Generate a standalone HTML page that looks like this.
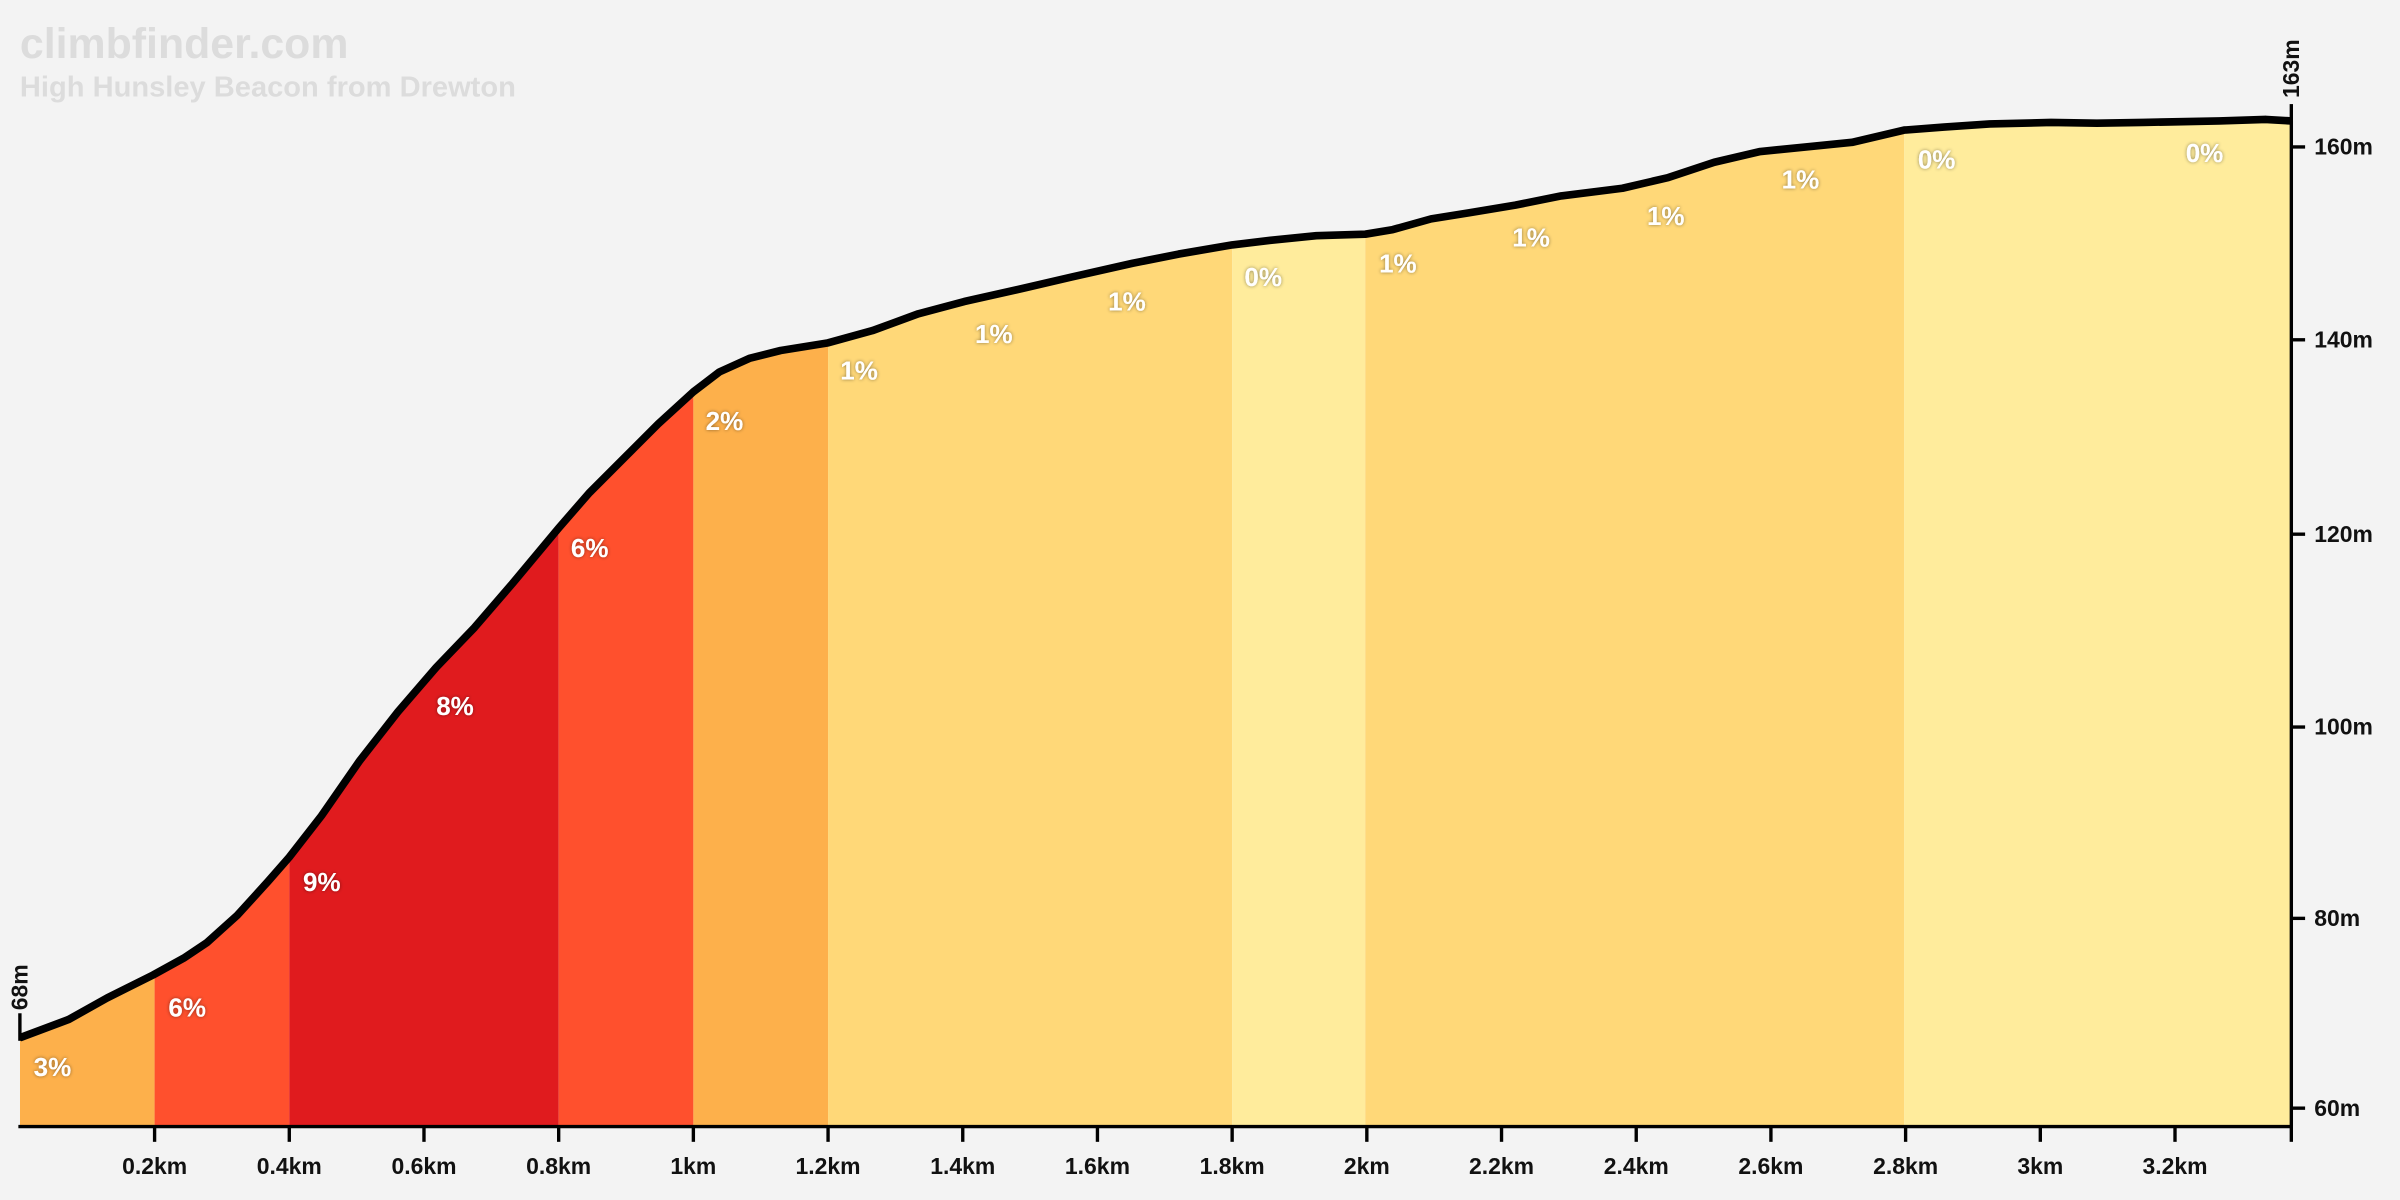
<!DOCTYPE html>
<html><head><meta charset="utf-8"><style>
html,body{margin:0;padding:0;background:#f3f3f3;}
svg{display:block}
.t{font-family:"Liberation Sans",sans-serif;font-weight:bold;}
.p{fill:#fff;font-size:17px;font-family:"Liberation Sans",sans-serif;font-weight:bold;filter:url(#sh)}
.ax{font-size:15px;fill:#111;font-family:"Liberation Sans",sans-serif;font-weight:bold}
</style></head><body>
<svg width="2400" height="1200" viewBox="0 0 1568 784" xmlns="http://www.w3.org/2000/svg">
<defs>
<filter id="sh" x="-20%" y="-20%" width="140%" height="140%"><feDropShadow dx="0" dy="0" stdDeviation="1.2" flood-color="#000" flood-opacity="0.45"/></filter>
<clipPath id="cp"><path d="M13,678 L45,666 L70,652 L100,637 L120,626 L135,616 L155,598 L175,576 L189,560 L210,533 L235,497 L260,465 L285,436 L310,410 L335,381 L365,345 L385,322 L410,297 L430,277 L453,256 L470,243 L490,234 L510,229 L541,224 L570,216 L600,205 L630,197 L670,188 L700,181 L740,172 L770,166 L805,160 L830,157 L860,154 L892,153 L910,150 L935,143 L960,139 L990,134 L1020,128 L1060,123 L1090,116 L1120,106 L1150,99 L1180,96 L1210,93 L1244,85 L1270,83 L1300,81 L1340,80 L1370,80.5 L1400,80 L1450,79 L1480,78 L1497,79 L1497,736 L13,736 Z"/></clipPath>
</defs>
<rect width="1568" height="784" fill="#f3f3f3"/>
<text x="13" y="38" class="t" font-size="28" fill="#dcdcdc">climbfinder.com</text>
<text x="13" y="63" class="t" font-size="19" fill="#dcdcdc">High Hunsley Beacon from Drewton</text>
<g clip-path="url(#cp)">
<rect x="13" y="0" width="88" height="736" fill="#FDB04B"/>
<rect x="101" y="0" width="88" height="736" fill="#FF502D"/>
<rect x="189" y="0" width="176" height="736" fill="#E01B1E"/>
<rect x="365" y="0" width="88" height="736" fill="#FF502D"/>
<rect x="453" y="0" width="88" height="736" fill="#FDB04B"/>
<rect x="541" y="0" width="264" height="736" fill="#FFD878"/>
<rect x="805" y="0" width="87" height="736" fill="#FFEC9C"/>
<rect x="892" y="0" width="352" height="736" fill="#FFD878"/>
<rect x="1244" y="0" width="253" height="736" fill="#FFEC9C"/>
</g>
<polyline fill="none" stroke="#000" stroke-width="5" stroke-linejoin="round" points="13,678 45,666 70,652 100,637 120,626 135,616 155,598 175,576 189,560 210,533 235,497 260,465 285,436 310,410 335,381 365,345 385,322 410,297 430,277 453,256 470,243 490,234 510,229 541,224 570,216 600,205 630,197 670,188 700,181 740,172 770,166 805,160 830,157 860,154 892,153 910,150 935,143 960,139 990,134 1020,128 1060,123 1090,116 1120,106 1150,99 1180,96 1210,93 1244,85 1270,83 1300,81 1340,80 1370,80.5 1400,80 1450,79 1480,78 1497,79"/>
<g class="p">
<text x="22" y="703">3%</text><text x="110" y="664">6%</text><text x="198" y="582">9%</text>
<text x="285" y="467">8%</text><text x="373" y="364">6%</text><text x="461" y="281">2%</text>
<text x="549" y="248">1%</text><text x="637" y="224">1%</text><text x="724" y="203">1%</text>
<text x="813" y="187">0%</text><text x="901" y="178">1%</text><text x="988" y="161">1%</text>
<text x="1076" y="147">1%</text><text x="1164" y="123">1%</text><text x="1253" y="110">0%</text>
<text x="1428" y="106">0%</text>
</g>
<g stroke="#000" stroke-width="2.2">
<line x1="12" y1="736" x2="1498" y2="736"/>
<line x1="1497" y1="79" x2="1497" y2="736"/>
<line x1="13" y1="662" x2="13" y2="680"/>
<line x1="1497" y1="68" x2="1497" y2="80"/>
<line x1="101" y1="736" x2="101" y2="746"/><line x1="189" y1="736" x2="189" y2="746"/>
<line x1="277" y1="736" x2="277" y2="746"/><line x1="365" y1="736" x2="365" y2="746"/>
<line x1="453" y1="736" x2="453" y2="746"/><line x1="541" y1="736" x2="541" y2="746"/>
<line x1="629" y1="736" x2="629" y2="746"/><line x1="717" y1="736" x2="717" y2="746"/>
<line x1="805" y1="736" x2="805" y2="746"/><line x1="893" y1="736" x2="893" y2="746"/>
<line x1="981" y1="736" x2="981" y2="746"/><line x1="1069" y1="736" x2="1069" y2="746"/>
<line x1="1157" y1="736" x2="1157" y2="746"/><line x1="1245" y1="736" x2="1245" y2="746"/>
<line x1="1333" y1="736" x2="1333" y2="746"/><line x1="1421" y1="736" x2="1421" y2="746"/>
<line x1="1497" y1="736" x2="1497" y2="746"/>
<line x1="1497" y1="96" x2="1506" y2="96"/><line x1="1497" y1="222" x2="1506" y2="222"/>
<line x1="1497" y1="349" x2="1506" y2="349"/><line x1="1497" y1="475" x2="1506" y2="475"/>
<line x1="1497" y1="600" x2="1506" y2="600"/><line x1="1497" y1="724" x2="1506" y2="724"/>
</g>
<g class="ax" text-anchor="middle">
<text x="101" y="767">0.2km</text><text x="189" y="767">0.4km</text><text x="277" y="767">0.6km</text>
<text x="365" y="767">0.8km</text><text x="453" y="767">1km</text><text x="541" y="767">1.2km</text>
<text x="629" y="767">1.4km</text><text x="717" y="767">1.6km</text><text x="805" y="767">1.8km</text>
<text x="893" y="767">2km</text><text x="981" y="767">2.2km</text><text x="1069" y="767">2.4km</text>
<text x="1157" y="767">2.6km</text><text x="1245" y="767">2.8km</text><text x="1333" y="767">3km</text>
<text x="1421" y="767">3.2km</text>
</g>
<g class="ax">
<text x="1512" y="101">160m</text><text x="1512" y="227">140m</text><text x="1512" y="354">120m</text>
<text x="1512" y="480">100m</text><text x="1512" y="605">80m</text><text x="1512" y="729">60m</text>
<text transform="translate(18,660) rotate(-90)">68m</text>
<text transform="translate(1502,64) rotate(-90)">163m</text>
</g>
</svg>
</body></html>
